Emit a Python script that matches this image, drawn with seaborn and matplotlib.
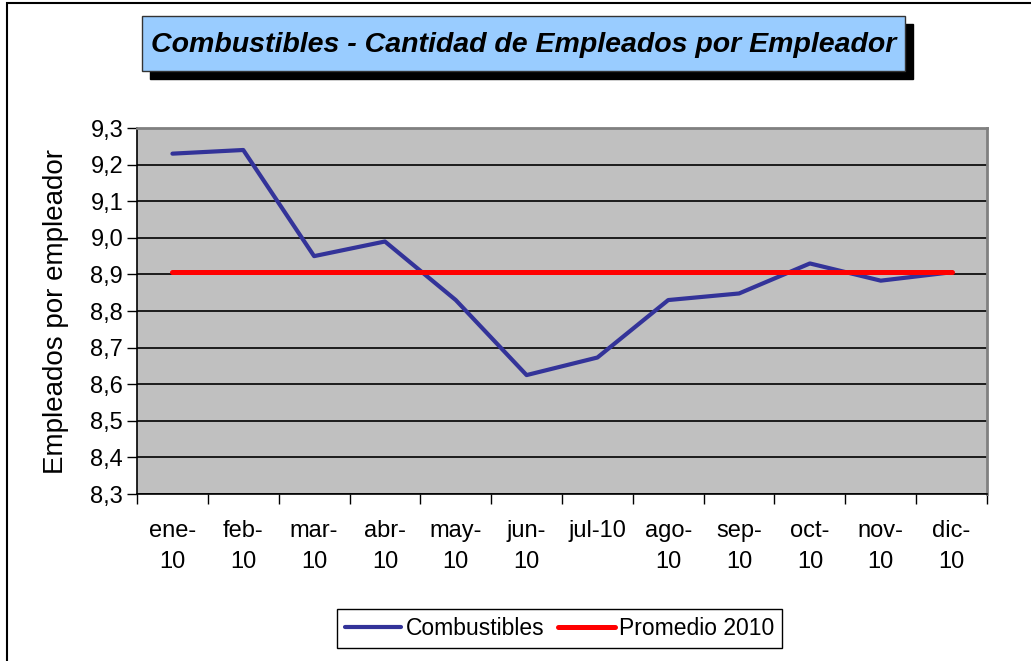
import numpy as np
import pandas as pd
import matplotlib.pyplot as plt
import matplotlib.patches as mpatches
from matplotlib.ticker import FixedLocator, FuncFormatter
import seaborn as sns

# datos
meses = ['ene-\n10', 'feb-\n10', 'mar-\n10', 'abr-\n10', 'may-\n10', 'jun-\n10',
         'jul-10', 'ago-\n10', 'sep-\n10', 'oct-\n10', 'nov-\n10', 'dic-\n10']
combustibles = [9.23, 9.24, 8.95, 8.99, 8.83, 8.625, 8.673, 8.83, 8.848, 8.93, 8.883, 8.906]
promedio_2010 = 8.907
y_ticks = [8.3, 8.4, 8.5, 8.6, 8.7, 8.8, 8.9, 9.0, 9.1, 9.2, 9.3]

df = pd.DataFrame({'pos': np.arange(len(meses)), 'mes': meses,
                   'Combustibles': combustibles,
                   'Promedio 2010': [promedio_2010] * len(meses)})
df_long = df.melt(id_vars=['pos', 'mes'], var_name='serie', value_name='valor')

sns.set_style('white')
plt.rcParams['font.family'] = ['Liberation Sans', 'DejaVu Sans']
plt.rcParams['text.color'] = 'black'
plt.rcParams['axes.labelcolor'] = 'black'
plt.rcParams['xtick.color'] = 'black'
plt.rcParams['ytick.color'] = 'black'

fig = plt.figure(figsize=(10.31, 6.61), dpi=100)
ax = fig.add_axes([0.1329, 0.2526, 0.8244, 0.5537])
ax.set_facecolor('#C0C0C0')

sns.lineplot(data=df_long, x='pos', y='valor', hue='serie',
             palette={'Combustibles': '#333399', 'Promedio 2010': '#FF0000'},
             ax=ax, legend=False, estimator=None)
ax.lines[0].set_linewidth(3.0)
ax.lines[1].set_linewidth(3.6)
ax.lines[0].set_zorder(3)
ax.lines[1].set_zorder(4)

ax.set_xlim(-0.5, len(meses) - 0.5)
ax.set_ylim(8.3, 9.3)
ax.set_yticks(y_ticks)
ax.yaxis.set_major_formatter(FuncFormatter(lambda v, p: f'{v:.1f}'.replace('.', ',')))
ax.set_xticks(df['pos'])
ax.set_xticklabels(meses, linespacing=1.5, va='top')
ax.xaxis.set_minor_locator(FixedLocator(np.arange(-0.5, len(meses), 1.0)))
ax.tick_params(axis='x', which='major', length=0, pad=19, labelsize=17, labelcolor='black')
ax.tick_params(axis='x', which='minor', length=7, width=1, color='black', direction='out', bottom=True)
ax.tick_params(axis='y', length=7, width=1, color='black', direction='out', left=True,
               labelsize=17, pad=3, labelcolor='black')

ax.grid(axis='y', color='black', linewidth=1.2)
ax.set_axisbelow(True)
ax.set_xlabel('')
ax.set_ylabel('Empleados por empleador', fontsize=20, labelpad=15, color='black')

for s in ['left', 'bottom']:
    ax.spines[s].set_color('black')
    ax.spines[s].set_linewidth(1.2)
for s in ['top', 'right']:
    ax.spines[s].set_color('#808080')
    ax.spines[s].set_linewidth(2)

# marco de la figura
fig.patches.append(mpatches.Rectangle((7 / 1031, -0.01), 1.2, 1 - 3 / 661 + 0.01,
                                      transform=fig.transFigure, fill=False,
                                      edgecolor='black', linewidth=1.5))

# caja del titulo con sombra
bx0, bx1 = 142 / 1031, 905 / 1031
by0, by1 = 1 - 71 / 661, 1 - 16 / 661
dx, dy = 8 / 1031, 8 / 661
fig.patches.append(mpatches.Rectangle((bx0 + dx, by0 - dy), bx1 - bx0, by1 - by0,
                                      transform=fig.transFigure, facecolor='black',
                                      edgecolor='black'))
fig.patches.append(mpatches.Rectangle((bx0, by0), bx1 - bx0, by1 - by0,
                                      transform=fig.transFigure, facecolor='#99CCFF',
                                      edgecolor='#333333', linewidth=1))
fig.text((bx0 + bx1) / 2, (by0 + by1) / 2 - 0.002,
         'Combustibles - Cantidad de Empleados por Empleador', color='black',
         ha='center', va='center', fontsize=20.5, fontweight='bold', fontstyle='italic')

handles = [plt.Line2D([], [], color='#333399', linewidth=3.0),
           plt.Line2D([], [], color='#FF0000', linewidth=3.6)]
leg = fig.legend(handles, ['Combustibles', 'Promedio 2010'], loc='upper center',
                 bbox_to_anchor=(0.543, 1 - 609 / 661), ncol=2, fontsize=16.5,
                 frameon=True, fancybox=False, edgecolor='black', framealpha=1,
                 handlelength=2.45, handletextpad=0.2, columnspacing=0.6,
                 borderpad=0.35, borderaxespad=0, labelcolor='black')
leg.get_frame().set_linewidth(1)

fig.savefig('out.png', dpi=100)
